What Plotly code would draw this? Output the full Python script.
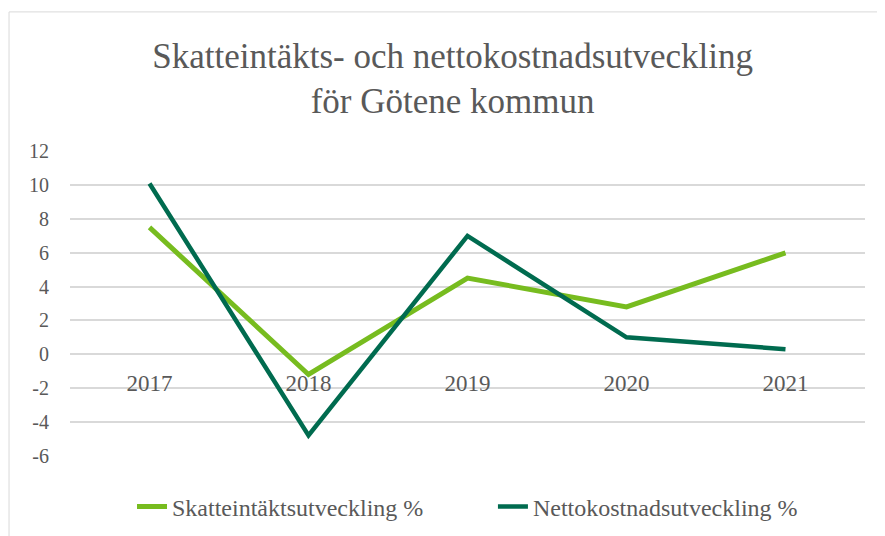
import plotly.graph_objects as go

years = ["2017", "2018", "2019", "2020", "2021"]
skatt = [7.5, -1.2, 4.5, 2.8, 6.0]
netto = [10.1, -4.8, 7.0, 1.0, 0.3]
y_ticks = [-6, -4, -2, 0, 2, 4, 6, 8, 10, 12]
y_tick_text = ["-6", "-4", "-2", "0", "2", "4", "6", "8", "10", "12"]

serif = "Liberation Serif, Times New Roman, serif"
grey = "#595959"

fig = go.Figure()
fig.add_trace(go.Scatter(x=years, y=skatt, mode="lines", name="Skatteintäktsutveckling %",
                         line=dict(color="#77BC1F", width=5), legend="legend"))
fig.add_trace(go.Scatter(x=years, y=netto, mode="lines", name="Nettokostnadsutveckling %",
                         line=dict(color="#006B4F", width=4.5), legend="legend2"))

legend_style = dict(orientation="h", xanchor="left", y=-0.167, yanchor="middle",
                    font=dict(family=serif, size=24, color=grey), bgcolor="rgba(0,0,0,0)")

# page adds an 8px body margin, so the figure is 8px smaller than the window
fig.update_layout(
    width=877, height=528,
    margin=dict(l=62, r=20, t=143, b=80, autoexpand=False),
    paper_bgcolor="white", plot_bgcolor="white",
    font=dict(family=serif, color=grey, size=19),
    title=dict(text="Skatteintäkts- och nettokostnadsutveckling<br>för Götene kommun",
               x=0.507, xanchor="center", y=0.887, yanchor="middle",
               font=dict(family=serif, size=35, color=grey)),
    legend=dict(x=0.078, **legend_style),
    legend2=dict(x=0.532, **legend_style),
    showlegend=True,
)

# category axis crosses the value axis at 0
fig.update_xaxes(type="category", range=[-0.5, 4.5], showgrid=False, showline=False,
                 zeroline=False, automargin=False, anchor="free", position=6 / 18,
                 ticks="outside", ticklen=8, tickcolor="rgba(0,0,0,0)",
                 tickfont=dict(family=serif, size=23, color=grey))
fig.update_yaxes(range=[-6.02, 12.02], tickvals=y_ticks, ticktext=y_tick_text,
                 showgrid=True, gridcolor="#d9d9d9", gridwidth=2, zeroline=False,
                 showline=False, automargin=False, ticks="outside", ticklen=16,
                 tickcolor="rgba(0,0,0,0)", tickfont=dict(family=serif, size=20, color=grey))

# chart area border
fig.add_shape(type="rect", xref="paper", yref="paper", x0=-0.0767, x1=1.04, y0=-0.30, y1=1.456,
              line=dict(color="#d9d9d9", width=1), layer="below")

fig.write_html("out.html")
